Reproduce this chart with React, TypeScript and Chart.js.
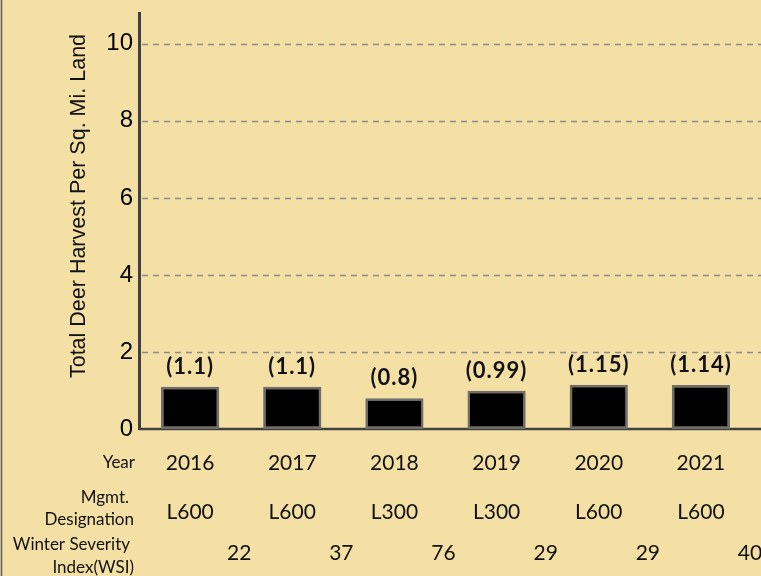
import React, { useEffect, useRef } from "react";
import { Chart, registerables } from "chart.js";

Chart.register(...registerables);

const years = ["2016", "2017", "2018", "2019", "2020", "2021"];
const harvestPerSqMi = [1.1, 1.1, 0.8, 0.99, 1.15, 1.14];
const designations = ["L600", "L600", "L300", "L300", "L600", "L600"];
const wsiValues = [22, 37, 76, 29, 29, 40];
const yTickValues = [0, 2, 4, 6, 8, 10];
const yAxisTitle = "Total Deer Harvest Per Sq. Mi. Land";

const BG = "#F4E0A4";
const AXIS = "#404040";

const overlayPlugin = {
  id: "overlay",
  beforeDraw(chart: any) {
    const { ctx, width, height } = chart;
    ctx.save();
    ctx.fillStyle = BG;
    ctx.fillRect(0, 0, width, height);
    ctx.restore();
  },
  beforeDatasetsDraw(chart: any) {
    const { ctx, chartArea, width } = chart;
    const y = chart.scales.y;
    ctx.save();
    ctx.strokeStyle = "#8a8a8a";
    ctx.lineWidth = 1.3;
    ctx.setLineDash([6, 5]);
    yTickValues.forEach((v) => {
      if (v === 0) return;
      const py = Math.round(y.getPixelForValue(v)) + 0.5;
      ctx.beginPath();
      ctx.moveTo(chartArea.left + 3, py);
      ctx.lineTo(width, py);
      ctx.stroke();
    });
    ctx.setLineDash([]);
    const y0 = y.getPixelForValue(0);
    ctx.strokeStyle = AXIS;
    ctx.lineWidth = 2.5;
    ctx.beginPath();
    ctx.moveTo(chartArea.left, y0);
    ctx.lineTo(width, y0);
    ctx.stroke();
    ctx.restore();
  },
  afterDatasetsDraw(chart: any) {
    const { ctx, chartArea, height } = chart;
    const x = chart.scales.x;
    const y = chart.scales.y;
    const step = x.getPixelForValue(1) - x.getPixelForValue(0);
    ctx.save();
    ctx.fillStyle = "#111";
    ctx.font = "bold 22px Lato";
    ctx.textAlign = "center";
    ctx.textBaseline = "middle";
    (ctx as any).letterSpacing = "1px";
    harvestPerSqMi.forEach((v, i) => {
      const px = x.getPixelForValue(i);
      const top = y.getPixelForValue(v);
      ctx.fillText(`(${v})`, px, top - 20);
    });
    (ctx as any).letterSpacing = "0px";
    ctx.font = "21px Lato";
    years.forEach((yr, i) => {
      ctx.fillText(yr, x.getPixelForValue(i), 463);
    });
    designations.forEach((d, i) => {
      ctx.fillText(d, x.getPixelForValue(i), 512);
    });
    wsiValues.forEach((w, i) => {
      ctx.fillText(String(w), x.getPixelForValue(i) + step / 2 - 2, 553);
    });
    ctx.font = "17px Lato";
    ctx.textAlign = "right";
    const L = chartArea.left;
    ctx.fillText("Year", L - 4, 463);
    ctx.fillText("Mgmt.", L - 10, 498);
    ctx.fillText("Designation", L - 5, 520);
    ctx.fillText("Winter Severity", L - 9, 545);
    ctx.fillText("Index(WSI)", L - 5, 568);
    ctx.save();
    ctx.translate(79, 206);
    ctx.rotate(-Math.PI / 2);
    ctx.textAlign = "center";
    ctx.font = "21.5px 'Liberation Sans'";
    ctx.fillText(yAxisTitle, 0, 0);
    ctx.restore();
    ctx.strokeStyle = "#5a5a5a";
    ctx.lineWidth = 1.5;
    ctx.beginPath();
    ctx.moveTo(1.5, 0);
    ctx.lineTo(1.5, height);
    ctx.stroke();
    ctx.restore();
  },
};

export default function App() {
  const ref = useRef<HTMLCanvasElement | null>(null);

  useEffect(() => {
    if (!ref.current) return;
    const chart = new Chart(ref.current, {
      type: "bar",
      data: {
        labels: years,
        datasets: [
          {
            data: harvestPerSqMi,
            backgroundColor: "#000000",
            borderColor: "#6e6e6e",
            borderWidth: 2.5,
            borderSkipped: false,
            categoryPercentage: 1,
            barPercentage: 0.57,
          },
        ],
      },
      options: {
        responsive: false,
        animation: false,
        devicePixelRatio: 1,
        layout: { padding: { top: 13, bottom: 147, right: 9, left: 0 } },
        plugins: {
          legend: { display: false },
          tooltip: { enabled: false },
          title: { display: false },
        },
        scales: {
          x: { display: false, offset: true },
          y: {
            min: 0,
            max: 10.8,
            afterBuildTicks: (scale: any) => {
              scale.ticks = yTickValues.map((v) => ({ value: v }));
            },
            afterFit: (scale: any) => {
              scale.width = 139;
              scale.paddingTop = 0;
              scale.paddingBottom = 0;
            },
            ticks: {
              stepSize: 2,
              padding: 6,
              color: "#000",
              font: { family: "'Liberation Sans'", size: 24 },
            },
            grid: { display: false, drawTicks: false },
            border: { display: true, color: AXIS, width: 3 },
          },
        },
      },
      plugins: [overlayPlugin],
    });
    return () => chart.destroy();
  }, []);

  return (
    <div
      style={{
        position: "fixed",
        left: 0,
        top: 0,
        width: 761,
        height: 576,
        overflow: "hidden",
        background: BG,
      }}
    >
      <canvas ref={ref} width={761} height={576} style={{ display: "block" }} />
    </div>
  );
}
